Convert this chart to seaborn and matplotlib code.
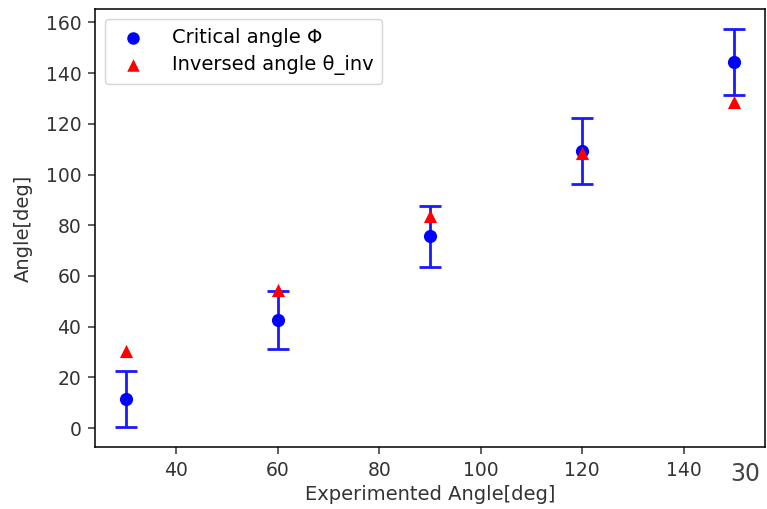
import matplotlib
matplotlib.use("Agg")
import matplotlib.pyplot as plt
import seaborn as sns
import pandas as pd

exp_angle = [30, 60, 90, 120, 150]
critical_angle = [11.4, 42.6, 75.7, 109.3, 144.4]
critical_err = [11.0, 11.5, 12.0, 13.0, 13.0]
inversed_angle = [30.4, 54.6, 83.6, 108.5, 128.6]

df = pd.DataFrame({"exp": exp_angle, "crit": critical_angle,
                   "err": critical_err, "inv": inversed_angle})

plt.rcParams['font.family'] = ['DejaVu Sans']
plt.rcParams.update({
    "axes.linewidth": 1.1,
    "xtick.major.size": 5, "ytick.major.size": 5,
    "xtick.major.width": 1.1, "ytick.major.width": 1.1,
    "xtick.major.pad": 4.9, "ytick.major.pad": 4.9,
    "xtick.color": "#333333", "ytick.color": "#333333",
})
fig = plt.figure(figsize=(7.67, 5.09), dpi=100)
ax = fig.add_axes([0.124, 0.122, 0.873, 0.860])

ax.errorbar(df["exp"], df["crit"], yerr=df["err"], fmt="none",
            ecolor="#1a1aff", elinewidth=2.0, capsize=8, capthick=2.0, zorder=1)
sns.scatterplot(data=df, x="exp", y="crit", ax=ax, color="blue", marker="o",
                s=90, edgecolor="blue", linewidth=0, label="Critical angle Φ", zorder=2)
sns.scatterplot(data=df, x="exp", y="inv", ax=ax, color="red", marker="^",
                s=90, edgecolor="red", linewidth=0, label="Inversed angle θ_inv", zorder=3)

ax.set_xlabel("Experimented Angle[deg]", fontsize=14, color="#333333", labelpad=4)
ax.set_ylabel("Angle[deg]", fontsize=14, color="#333333", labelpad=9)
ax.tick_params(labelsize=13.5, labelcolor="#333333")
ax.set_xticks([40, 60, 80, 100, 120, 140])
ax.set_yticks([0, 20, 40, 60, 80, 100, 120, 140, 160])
ax.legend(loc="upper left", fontsize=14, markerscale=0.95, handletextpad=1.0,
          borderpad=0.45, labelspacing=0.45)

fig.text(0.972, 0.068, "30", fontsize=17, color="#444444", ha="center", va="center")

fig.savefig("out.png", dpi=100)
